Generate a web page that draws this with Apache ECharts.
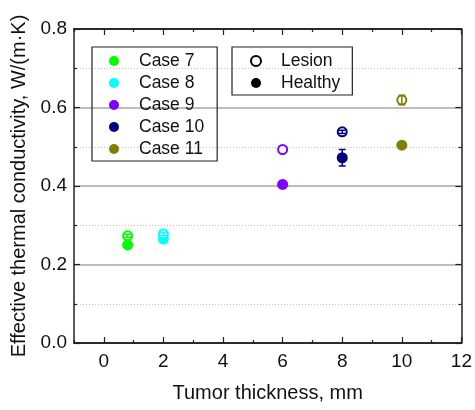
<!DOCTYPE html>
<html>
<head>
<meta charset="utf-8">
<script src="https://cdn.jsdelivr.net/npm/echarts@6/dist/echarts.min.js"></script>
<style>
  html, body { margin: 0; padding: 0; background: #fff; }
  #chart { width: 475px; height: 410px; }
</style>
</head>
<body>
<div id="chart"></div>
<script>
// tumor thickness (mm) for each case
const thickness = [0.8, 2, 6, 8, 10]
const caseNames = ['Case 7', 'Case 8', 'Case 9', 'Case 10', 'Case 11']
const caseColors = ['#00ff00', '#00ffff', '#8000ff', '#000080', '#808000']
// effective thermal conductivity, W/(m·K)
const lesion = [0.273, 0.278, 0.493, 0.538, 0.619]
const lesionErr = [0.004, 0.004, 0, 0.004, 0.012]
const healthy = [0.250, 0.265, 0.404, 0.472, 0.504]
const healthyErr = [0.004, 0.003, 0, 0.021, 0]
const xMajor = [0, 2, 4, 6, 8, 10, 12]
const xMinor = [-1, 1, 3, 5, 7, 9, 11]

const FONT = 'Liberation Sans, Arial, sans-serif'
const chart = echarts.init(document.getElementById('chart'))

// healthy (filled) and lesion (open) markers, one series per case
let series = []
caseNames.forEach((name, i) => {
  series.push({
    name: name,
    type: 'scatter',
    symbol: 'circle',
    symbolSize: 11,
    itemStyle: { color: caseColors[i], opacity: 1 },
    data: [[thickness[i], healthy[i]]],
    z: 3
  })
})
caseNames.forEach((name, i) => {
  series.push({
    name: name + ' lesion',
    type: 'scatter',
    symbol: 'circle',
    symbolSize: 9,
    itemStyle: { color: '#fff', borderColor: caseColors[i], borderWidth: 2, opacity: 1 },
    data: [[thickness[i], lesion[i]]],
    z: 4
  })
})

// error bars
let errData = []
thickness.forEach((x, i) => {
  if (lesionErr[i] > 0) errData.push([x, lesion[i] - lesionErr[i], lesion[i] + lesionErr[i], i])
  if (healthyErr[i] > 0) errData.push([x, healthy[i] - healthyErr[i], healthy[i] + healthyErr[i], i])
})
series.push({
  name: 'error',
  type: 'custom',
  z: 5,
  silent: true,
  data: errData,
  renderItem (params, api) {
    const x = api.value(0)
    const top = api.coord([x, api.value(2)])
    const bot = api.coord([x, api.value(1)])
    const style = { stroke: caseColors[api.value(3)], lineWidth: 1.5 }
    const w = 3.5
    return {
      type: 'group',
      children: [
        { type: 'line', shape: { x1: top[0], y1: top[1], x2: bot[0], y2: bot[1] }, style: style },
        { type: 'line', shape: { x1: top[0] - w, y1: top[1], x2: top[0] + w, y2: top[1] }, style: style },
        { type: 'line', shape: { x1: bot[0] - w, y1: bot[1], x2: bot[0] + w, y2: bot[1] }, style: style }
      ]
    }
  }
})

// dummy series for the marker-type legend
series.push({ name: 'Lesion', type: 'scatter', data: [], itemStyle: { color: '#fff', borderColor: '#000', borderWidth: 2, opacity: 1 } })
series.push({ name: 'Healthy', type: 'scatter', data: [], itemStyle: { color: '#000', opacity: 1 } })

const axisLine = { show: true, onZero: false, lineStyle: { color: '#222', width: 1.5 } }

function xAxisDef (position, values, len, labels) {
  return {
    type: 'value',
    position: position,
    min: -1,
    max: 12,
    axisLine: axisLine,
    axisTick: { show: true, inside: true, length: len, customValues: values, lineStyle: { color: '#222', width: 1.2 } },
    axisLabel: labels
      ? { show: true, customValues: values, color: '#111', fontSize: 19, fontFamily: FONT, margin: 9 }
      : { show: false },
    splitLine: { show: false },
    name: labels ? 'Tumor thickness, mm' : '',
    nameLocation: 'middle',
    nameGap: 40,
    nameTextStyle: { color: '#111', fontSize: 20, fontFamily: FONT }
  }
}

function yAxisDef (position, labels) {
  return {
    type: 'value',
    position: position,
    min: 0,
    max: 0.8,
    interval: 0.2,
    axisLine: axisLine,
    axisTick: { show: true, inside: true, length: 6, lineStyle: { color: '#222', width: 1.2 } },
    minorTick: { show: true, splitNumber: 2, length: 3, lineStyle: { color: '#222', width: 1.2 } },
    axisLabel: labels
      ? { show: true, color: '#111', fontSize: 19, fontFamily: FONT, margin: 7, formatter: v => v.toFixed(1) }
      : { show: false },
    splitLine: { show: labels, lineStyle: { color: '#a6a6a6', width: 1.5 } },
    minorSplitLine: { show: labels, lineStyle: { color: '#c4c4c4', width: 1, type: [1, 2] } },
    name: labels ? 'Effective thermal conductivity, W/(m·K)' : '',
    nameLocation: 'middle',
    nameGap: 37,
    nameTextStyle: { color: '#111', fontSize: 20, fontFamily: FONT }
  }
}

const legendText = { color: '#111', fontSize: 17.5, fontFamily: FONT }

let option = {
  animation: false,
  backgroundColor: '#fff',
  grid: { left: 74, right: 13, top: 29, bottom: 67 },
  legend: [
    {
      data: caseNames,
      orient: 'vertical',
      left: 92,
      top: 47,
      icon: 'circle',
      itemWidth: 40,
      itemHeight: 10,
      itemGap: 4,
      padding: [5, 13, 3, 17],
      borderColor: '#222',
      borderWidth: 1.2,
      selectedMode: false,
      textStyle: legendText
    },
    {
      data: [
        { name: 'Lesion', itemStyle: { color: '#fff', borderColor: '#000', borderWidth: 2 } },
        { name: 'Healthy', itemStyle: { color: '#000' } }
      ],
      orient: 'vertical',
      left: 232,
      top: 47,
      icon: 'circle',
      itemWidth: 40,
      itemHeight: 10,
      itemGap: 4,
      padding: [5, 12, 3, 18],
      borderColor: '#222',
      borderWidth: 1.2,
      selectedMode: false,
      textStyle: legendText
    }
  ],
  xAxis: [
    xAxisDef('bottom', xMajor, 6, true),
    xAxisDef('bottom', xMinor, 3, false),
    xAxisDef('top', xMajor, 6, false),
    xAxisDef('top', xMinor, 3, false)
  ],
  yAxis: [
    yAxisDef('left', true),
    yAxisDef('right', false)
  ],
  series: series
}
chart.setOption(option)
</script>
</body>
</html>
